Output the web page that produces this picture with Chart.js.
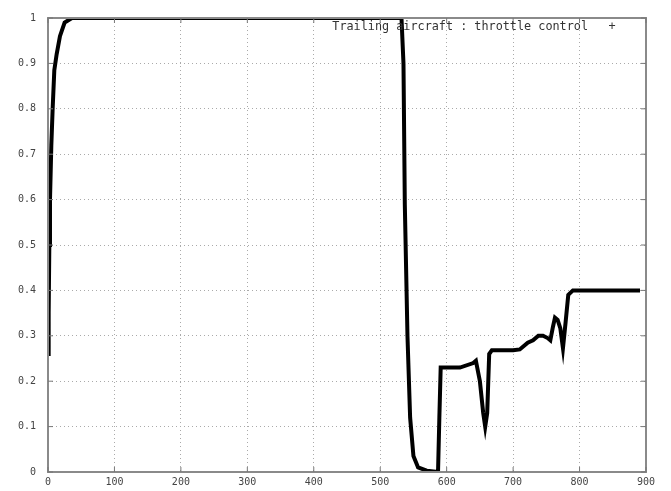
<!DOCTYPE html>
<html>
<head>
<meta charset="utf-8">
<script src="https://cdn.jsdelivr.net/npm/chart.js@4/dist/chart.umd.min.js"></script>
<style>
  html, body { margin: 0; padding: 0; background: #fff; }
  #wrap { width: 671px; height: 491px; }
</style>
</head>
<body>
<div id="wrap"><canvas id="throttle"></canvas></div>
<script>
// time (s) and throttle setting
const times = [0, 1, 2, 3, 5, 7, 9.5, 13, 18, 25, 36,
  532, 535, 537, 541, 545, 550, 557, 570, 587, 589, 591,
  620, 640, 644, 650, 655, 658, 661, 664, 668, 700, 710,
  722, 730, 738, 745, 752, 756, 760, 763, 767, 771, 775,
  779, 783, 790, 800, 891];
const throttle = [0.26, 0.35, 0.5, 0.6, 0.72, 0.8, 0.885, 0.92, 0.96, 0.99, 1,
  1, 0.9, 0.59, 0.3, 0.12, 0.035, 0.01, 0.003, 0, 0.12, 0.23,
  0.23, 0.24, 0.245, 0.2, 0.13, 0.1, 0.13, 0.26, 0.268, 0.268, 0.27,
  0.285, 0.29, 0.3, 0.3, 0.295, 0.29, 0.32, 0.34, 0.335, 0.317, 0.273,
  0.33, 0.39, 0.4, 0.4, 0.4];
const seriesLabel = 'Trailing aircraft : throttle control';

const points = times.map((t, i) => ({ x: t, y: throttle[i] }));

const mono = 'DejaVu Sans Mono';

// gnuplot style frame, mirrored ticks and key inside the plot
const gnuplotFrame = {
  id: 'gnuplotFrame',
  afterDraw(chart) {
    const { ctx, chartArea: a, scales } = chart;
    ctx.save();
    ctx.strokeStyle = '#8a8a8a';
    ctx.lineWidth = 2;
    ctx.strokeRect(a.left, a.top, a.right - a.left, a.bottom - a.top);
    ctx.lineWidth = 1;
    ctx.strokeStyle = '#777';
    scales.x.ticks.forEach(t => {
      const px = scales.x.getPixelForValue(t.value);
      ctx.beginPath();
      ctx.moveTo(px, a.bottom); ctx.lineTo(px, a.bottom - 5);
      ctx.moveTo(px, a.top); ctx.lineTo(px, a.top + 5);
      ctx.stroke();
    });
    scales.y.ticks.forEach(t => {
      const py = scales.y.getPixelForValue(t.value);
      ctx.beginPath();
      ctx.moveTo(a.left, py); ctx.lineTo(a.left + 5, py);
      ctx.moveTo(a.right, py); ctx.lineTo(a.right - 5, py);
      ctx.stroke();
    });
    // key
    ctx.font = '11.8px "' + mono + '"';
    ctx.fillStyle = '#333';
    ctx.textBaseline = 'middle';
    ctx.textAlign = 'right';
    ctx.fillText(seriesLabel, a.right - 58, a.top + 9);
    ctx.textAlign = 'center';
    ctx.fillText('+', a.right - 34, a.top + 9);
    ctx.restore();
  }
};

new Chart(document.getElementById('throttle'), {
  type: 'line',
  data: {
    datasets: [{
      label: seriesLabel,
      data: points,
      borderColor: '#000',
      borderWidth: 4,
      pointRadius: 0,
      tension: 0,
      fill: false
    }]
  },
  options: {
    responsive: true,
    maintainAspectRatio: false,
    animation: false,
    layout: { padding: { top: 13, right: 25, left: 0, bottom: 0 } },
    plugins: {
      legend: { display: false },
      tooltip: { enabled: false }
    },
    scales: {
      x: {
        type: 'linear',
        min: 0,
        max: 900,
        afterFit(s) { s.height = 19; },
        ticks: { stepSize: 100, color: '#444', font: { family: mono, size: 10 }, padding: 4, maxRotation: 0 },
        grid: { color: '#aaa', drawTicks: false },
        border: { display: false, dash: [1, 3] }
      },
      y: {
        min: 0,
        max: 1,
        afterFit(s) { s.width = 48; },
        ticks: {
          stepSize: 0.1, color: '#444', font: { family: mono, size: 10 }, padding: 12,
          callback: v => String(Number(v.toFixed(1)))
        },
        grid: { color: '#aaa', drawTicks: false },
        border: { display: false, dash: [1, 3] }
      }
    }
  },
  plugins: [gnuplotFrame]
});
</script>
</body>
</html>
